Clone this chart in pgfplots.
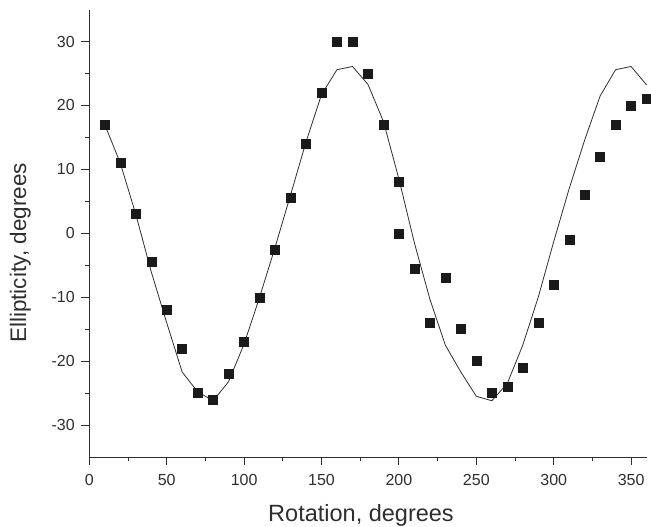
\documentclass[border=0pt]{standalone}
\usepackage{fontspec}
\setmainfont{Liberation Sans}
\usepackage{pgfplots}
\pgfplotsset{compat=1.18}
\definecolor{ax}{HTML}{2E2E2E}
\definecolor{mk}{HTML}{1A1A1A}
\begin{document}
\begin{tikzpicture}[x=1pt,y=1pt]
\path[use as bounding box] (0,0) rectangle (651,527);
\begin{axis}[
  at={(89.3pt,70pt)}, anchor=south west,
  scale only axis, width=557.3pt, height=447.4pt,
  xmin=0, xmax=360, ymin=-35, ymax=35,
  axis x line*=bottom, axis y line*=left,
  axis line style={ax, line width=0.9pt},
  tick align=outside,
  major tick length=8pt, minor tick length=4.5pt,
  every tick/.style={ax, line width=0.9pt},
  xtick={0,50,100,150,200,250,300,350},
  xticklabels={0,50,100,150,200,250,300,350},
  minor xtick={25,75,125,175,225,275,325},
  ytick={-30,-20,-10,0,10,20,30},
  yticklabels={-30,-20,-10,0,10,20,30},
  minor ytick={-25,-15,-5,5,15,25},
  tick label style={font=\fontsize{16}{16}\selectfont, text=ax},
  xticklabel style={yshift=-6pt},
  yticklabel style={xshift=-3pt},
  clip=false,
]
\addplot[color=ax, line width=0.8pt, mark=none] coordinates {
(10,17) (20,11) (30,3) (40,-6) (50,-14) (60,-21.7) (70,-24.8) (80,-26.2)
(90,-23.2) (100,-17.3) (110,-10) (120,-2.2) (130,6) (140,14.3) (150,21.7)
(160,25.6) (170,26.1) (180,23.3) (190,17.5) (200,8.5) (210,-1.5) (220,-10.3)
(230,-17.5) (240,-21.7) (250,-25.5) (260,-26.2) (270,-23.5) (280,-17.5)
(290,-10) (300,-1.3) (310,7) (320,14.6) (330,21.5) (340,25.6) (350,26.1) (360,23.2)
};
\addplot[only marks, mark=square*, mark size=4.5pt, color=mk] coordinates {
(10,17) (20,11) (30,3) (40,-4.5) (50,-12) (60,-18) (70,-25) (80,-26)
(90,-22) (100,-17) (110,-10) (120,-2.5) (130,5.5) (140,14) (150,22)
(160,30) (170,30) (180,25) (190,17) (200,8) (200,0) (210,-5.5) (220,-14)
(230,-7) (240,-15) (250,-20) (260,-25) (270,-24) (280,-21) (290,-14)
(300,-8) (310,-1) (320,6) (330,12) (340,17) (350,20) (360,21)
};
\end{axis}
\node[anchor=base, text=ax, font=\fontsize{23.5}{23.5}\selectfont] at (361,5) {Rotation, degrees};
\node[anchor=base, rotate=90, text=ax, font=\fontsize{22.5}{22.5}\selectfont] at (26,274) {Ellipticity, degrees};
\end{tikzpicture}
\end{document}
